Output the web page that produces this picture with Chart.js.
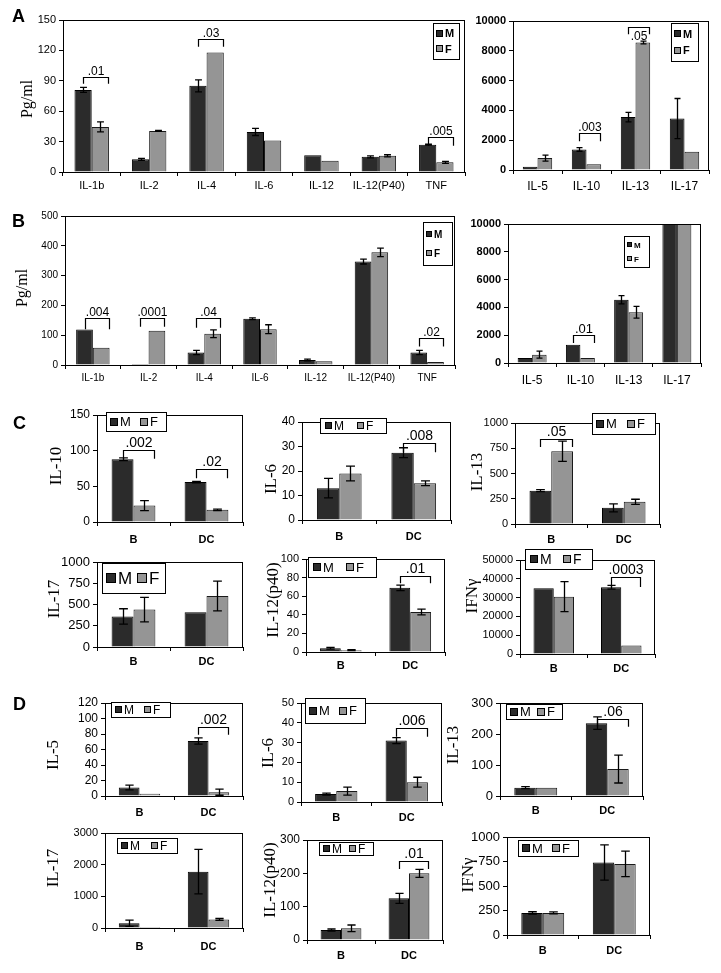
<!DOCTYPE html>
<html>
<head>
<meta charset="utf-8">
<script src="https://cdn.jsdelivr.net/npm/chart.js@4.4.1/dist/chart.umd.min.js"></script>
<style>
  body { margin:0; background:#fff; width:721px; height:973px; position:relative; overflow:hidden; }
  canvas { position:absolute; }
  .letter { position:absolute; font:bold 18px "Liberation Sans", Arial, sans-serif; line-height:18px; }
  .ytitle { position:absolute; font:17px "Liberation Serif", "Times New Roman", serif; line-height:1;
            white-space:nowrap; transform:translate(-50%,-50%) rotate(-90deg); }
</style>
</head>
<body>
<script>
// ---- A: serum cytokines (left: low range, right: high range)
const aCats1 = ['IL-1b', 'IL-2', 'IL-4', 'IL-6', 'IL-12', 'IL-12(P40)', 'TNF'];
const aMale1 = [81, 12.5, 85, 39.5, 16.5, 15, 27];
const aMaleErr1 = [2.5, 1, 6, 3.5, 0, 1, 0.5];
const aFemale1 = [44.5, 40.5, 118, 31, 11, 16, 9.5];
const aFemaleErr1 = [5, 0.5, 0, 0, 0, 1, 1];
const aSigCats1 = [0, 2, 6];
const aSigText1 = ['.01', '.03', '.005'];
const aSigTop1 = [93.5, 131, 35];
const aSigEnd1 = [87, 123.5, 26];
const aTicks1 = [0, 30, 60, 90, 120, 150];

const aCats2 = ['IL-5', 'IL-10', 'IL-13', 'IL-17'];
const aMale2 = [220, 1380, 3550, 3450];
const aMaleErr2 = [0, 120, 320, 1350];
const aFemale2 = [800, 380, 8560, 1220];
const aFemaleErr2 = [200, 0, 90, 0];
const aSigCats2 = [1, 2];
const aSigText2 = ['.003', '.05'];
const aSigTop2 = [2450, 9620];
const aSigEnd2 = [1930, 9110];
const aTicks2 = [0, 2000, 4000, 6000, 8000, 10000];

// ---- B
const bCats1 = ['IL-1b', 'IL-2', 'IL-4', 'IL-6', 'IL-12', 'IL-12(P40)', 'TNF'];
const bMale1 = [119, 3, 42, 155, 17, 347, 42];
const bMaleErr1 = [0, 0, 7, 3, 3, 8, 7];
const bFemale1 = [58, 115, 105, 120, 13, 378, 10];
const bFemaleErr1 = [0, 0, 13, 15, 0, 14, 0];
const bSigCats1 = [0, 1, 2, 6];
const bSigText1 = ['.004', '.0001', '.04', '.02'];
const bSigTop1 = [157, 157, 157, 90];
const bSigEnd1 = [120, 128, 125, 62];
const bTicks1 = [0, 100, 200, 300, 400, 500];

const bCats2 = ['IL-5', 'IL-10', 'IL-13', 'IL-17'];
const bMale2 = [360, 1320, 4550, 10000];
const bMaleErr2 = [0, 0, 300, 0];
const bFemale2 = [600, 360, 3650, 10000];
const bFemaleErr2 = [250, 0, 420, 0];
const bSigCats2 = [1];
const bSigText2 = ['.01'];
const bSigTop2 = [1990];
const bSigEnd2 = [1430];
const bTicks2 = [0, 2000, 4000, 6000, 8000, 10000];

// ---- C / D: B cells vs DC
const cellCats = ['B', 'DC'];

const c1Male = [88, 56], c1MaleErr = [2, 1], c1Female = [23, 17], c1FemaleErr = [7, 1];
const c1SigCats = [0, 1], c1SigText = ['.002', '.02'], c1SigTop = [101, 74.5], c1SigEnd = [88.5, 61.5];
const c1Ticks = [0, 50, 100, 150];

const c2Male = [13, 27.5], c2MaleErr = [4, 2], c2Female = [19, 15], c2FemaleErr = [3, 1];
const c2SigCats = [1], c2SigText = ['.008'], c2SigTop = [31.4], c2SigEnd = [27.7];
const c2Ticks = [0, 10, 20, 30, 40];

const c3Male = [330, 160], c3MaleErr = [10, 40], c3Female = [720, 220], c3FemaleErr = [100, 25];
const c3SigCats = [0], c3SigText = ['.05'], c3SigTop = [842], c3SigEnd = [762];
const c3Ticks = [0, 250, 500, 750, 1000];

const c4Male = [360, 410], c4MaleErr = [90, 0], c4Female = [440, 600], c4FemaleErr = [145, 175];
const c4Ticks = [0, 250, 500, 750, 1000];

const c5Male = [4, 69], c5MaleErr = [1, 3], c5Female = [2, 43], c5FemaleErr = [0.5, 3];
const c5SigCats = [1], c5SigText = ['.01'], c5SigTop = [82], c5SigEnd = [74];
const c5Ticks = [0, 20, 40, 60, 80, 100];

const c6Male = [35000, 35500], c6MaleErr = [0, 1000], c6Female = [30500, 4500], c6FemaleErr = [8000, 0];
const c6SigCats = [1], c6SigText = ['.0003'], c6SigTop = [41000], c6SigEnd = [35600];
const c6Ticks = [0, 10000, 20000, 30000, 40000, 50000];

const d1Male = [11, 71], d1MaleErr = [3, 4], d1Female = [3, 5], d1FemaleErr = [0, 4];
const d1SigCats = [1], d1SigText = ['.002'], d1SigTop = [89], d1SigEnd = [79];
const d1Ticks = [0, 20, 40, 60, 80, 100, 120];

const d2Male = [4, 31], d2MaleErr = [0.5, 1.5], d2Female = [5.5, 10], d2FemaleErr = [2, 2.5];
const d2SigCats = [1], d2SigText = ['.006'], d2SigTop = [37.4], d2SigEnd = [33];
const d2Ticks = [0, 10, 20, 30, 40, 50];

const d3Male = [27, 235], d3MaleErr = [3, 20], d3Female = [27, 87], d3FemaleErr = [0, 45];
const d3SigCats = [1], d3SigText = ['.06'], d3SigTop = [248], d3SigEnd = [223];
const d3Ticks = [0, 100, 200, 300];

const d4Male = [150, 1780], d4MaleErr = [100, 700], d4Female = [30, 270], d4FemaleErr = [0, 30];
const d4Ticks = [0, 1000, 2000, 3000];

const d5Male = [30, 125], d5MaleErr = [3, 15], d5Female = [35, 200], d5FemaleErr = [10, 12];
const d5SigCats = [1], d5SigText = ['.01'], d5SigTop = [237], d5SigEnd = [213];
const d5Ticks = [0, 100, 200, 300];

const d6Male = [225, 740], d6MaleErr = [12, 180], d6Female = [225, 725], d6FemaleErr = [10, 130];
const d6Ticks = [0, 250, 500, 750, 1000];

const panelLetters = [['A', 12, 7], ['B', 12, 212], ['C', 13, 414], ['D', 13, 695]];
const yTitles = [
  ['Pg/ml', 27, 99, 16], ['Pg/ml', 22, 288, 16],
  ['IL-10', 55, 466, 17], ['IL-6', 270, 479, 17], ['IL-13', 476, 472, 17],
  ['IL-17', 53, 599, 17], ['IL-12(p40)', 272, 600, 17], ['IFNγ', 471, 596, 17],
  ['IL-5', 52, 755, 17], ['IL-6', 267, 753, 17], ['IL-13', 452, 745, 17],
  ['IL-17', 52, 868, 17], ['IL-12(p40)', 269, 880, 17], ['IFNγ', 467, 875, 17]
];

const M_COLOR = '#2b2b2b', F_COLOR = '#959595';
const FAMILY = '"Liberation Sans", Arial, sans-serif';
Chart.defaults.font.family = FAMILY;
Chart.defaults.color = '#000';

// page layout for every small chart: area = plot box [left, top, right, bottom] in page px
const charts = [
  { area: [63, 20, 465, 172], cats: aCats1, m: aMale1, me: aMaleErr1, f: aFemale1, fe: aFemaleErr1,
    sig: [aSigCats1, aSigText1, aSigTop1, aSigEnd1], ticks: aTicks1, tickFont: 11, catFont: 11, catBold: false,
    catOff: 13, legend: { box: [433, 23, 459, 59], dir: 'v', size: 11, bold: true }, sigFont: 12 },
  { area: [513, 21, 709, 170], cats: aCats2, m: aMale2, me: aMaleErr2, f: aFemale2, fe: aFemaleErr2,
    sig: [aSigCats2, aSigText2, aSigTop2, aSigEnd2], sigBelow: [false, true], ticks: aTicks2, tickFont: 11, tickBold: true,
    catFont: 12, catBold: false, catOff: 16, legend: { box: [671, 23, 698, 61], dir: 'v', size: 11, bold: true }, sigFont: 12 },
  { area: [65, 216, 455, 365], cats: bCats1, m: bMale1, me: bMaleErr1, f: bFemale1, fe: bFemaleErr1,
    sig: [bSigCats1, bSigText1, bSigTop1, bSigEnd1], ticks: bTicks1, tickFont: 10, catFont: 10, catBold: false,
    catOff: 13, legend: { box: [423, 222, 452, 265], dir: 'v', size: 10, bold: true }, sigFont: 12 },
  { area: [508, 224, 701, 363], cats: bCats2, m: bMale2, me: bMaleErr2, f: bFemale2, fe: bFemaleErr2,
    sig: [bSigCats2, bSigText2, bSigTop2, bSigEnd2], ticks: bTicks2, tickFont: 11, tickBold: true, catFont: 12, catBold: false,
    catOff: 17, legend: { box: [624, 236, 649, 267], dir: 'v', size: 8, bold: true }, sigFont: 13 },

  { area: [97, 415, 243, 522], cats: cellCats, m: c1Male, me: c1MaleErr, f: c1Female, fe: c1FemaleErr,
    sig: [c1SigCats, c1SigText, c1SigTop, c1SigEnd], ticks: c1Ticks, tickFont: 12, catFont: 11, catBold: true,
    catOff: 17, legend: { box: [106, 412, 166, 431], dir: 'h', size: 13 }, sigFont: 14 },
  { area: [302, 422, 451, 520], cats: cellCats, m: c2Male, me: c2MaleErr, f: c2Female, fe: c2FemaleErr,
    sig: [c2SigCats, c2SigText, c2SigTop, c2SigEnd], ticks: c2Ticks, tickFont: 12, catFont: 11, catBold: true,
    catOff: 16, legend: { box: [320, 418, 386, 433], dir: 'h', size: 12 }, sigFont: 14 },
  { area: [515, 423, 660, 524], cats: cellCats, m: c3Male, me: c3MaleErr, f: c3Female, fe: c3FemaleErr,
    sig: [c3SigCats, c3SigText, c3SigTop, c3SigEnd], ticks: c3Ticks, tickFont: 11, catFont: 11, catBold: true,
    catOff: 15, legend: { box: [592, 413, 655, 434], dir: 'h', size: 13 }, sigFont: 14 },
  { area: [97, 562, 243, 647], cats: cellCats, m: c4Male, me: c4MaleErr, f: c4Female, fe: c4FemaleErr,
    ticks: c4Ticks, tickFont: 13, catFont: 11, catBold: true,
    catOff: 14, legend: { box: [102, 563, 165, 593], dir: 'h', size: 17 }, sigFont: 14 },
  { area: [306, 559, 445, 652], cats: cellCats, m: c5Male, me: c5MaleErr, f: c5Female, fe: c5FemaleErr,
    sig: [c5SigCats, c5SigText, c5SigTop, c5SigEnd], ticks: c5Ticks, tickFont: 11, catFont: 11, catBold: true,
    catOff: 13, legend: { box: [308, 557, 376, 577], dir: 'h', size: 13 }, sigFont: 14 },
  { area: [520, 560, 655, 654], cats: cellCats, m: c6Male, me: c6MaleErr, f: c6Female, fe: c6FemaleErr,
    sig: [c6SigCats, c6SigText, c6SigTop, c6SigEnd], ticks: c6Ticks, tickFont: 11, catFont: 11, catBold: true,
    catOff: 14, legend: { box: [525, 549, 592, 569], dir: 'h', size: 14 }, sigFont: 14 },

  { area: [105, 703, 243, 796], cats: cellCats, m: d1Male, me: d1MaleErr, f: d1Female, fe: d1FemaleErr,
    sig: [d1SigCats, d1SigText, d1SigTop, d1SigEnd], ticks: d1Ticks, tickFont: 12, catFont: 11, catBold: true,
    catOff: 16, legend: { box: [111, 702, 170, 717], dir: 'h', size: 12 }, sigFont: 14 },
  { area: [301, 703, 442, 802], cats: cellCats, m: d2Male, me: d2MaleErr, f: d2Female, fe: d2FemaleErr,
    sig: [d2SigCats, d2SigText, d2SigTop, d2SigEnd], ticks: d2Ticks, tickFont: 11, catFont: 11, catBold: true,
    catOff: 15, legend: { box: [305, 698, 365, 723], dir: 'h', size: 13 }, sigFont: 14 },
  { area: [500, 703, 643, 796], cats: cellCats, m: d3Male, me: d3MaleErr, f: d3Female, fe: d3FemaleErr,
    sig: [d3SigCats, d3SigText, d3SigTop, d3SigEnd], ticks: d3Ticks, tickFont: 13, catFont: 11, catBold: true,
    catOff: 14, legend: { box: [506, 704, 562, 719], dir: 'h', size: 13 }, sigFont: 14 },
  { area: [105, 833, 243, 928], cats: cellCats, m: d4Male, me: d4MaleErr, f: d4Female, fe: d4FemaleErr,
    ticks: d4Ticks, tickFont: 11, catFont: 11, catBold: true,
    catOff: 18, legend: { box: [117, 838, 177, 853], dir: 'h', size: 12 }, sigFont: 14 },
  { area: [307, 840, 443, 940], cats: cellCats, m: d5Male, me: d5MaleErr, f: d5Female, fe: d5FemaleErr,
    sig: [d5SigCats, d5SigText, d5SigTop, d5SigEnd], ticks: d5Ticks, tickFont: 12, catFont: 11, catBold: true,
    catOff: 15, legend: { box: [319, 842, 373, 855], dir: 'h', size: 12 }, sigFont: 14 },
  { area: [507, 837, 650, 935], cats: cellCats, m: d6Male, me: d6MaleErr, f: d6Female, fe: d6FemaleErr,
    ticks: d6Ticks, tickFont: 13, catFont: 11, catBold: true,
    catOff: 15, legend: { box: [518, 840, 578, 856], dir: 'h', size: 13 }, sigFont: 14 }
];

// error bars, significance brackets, box outline and legend
function decorPlugin(c, ox, oy) {
  return {
    id: 'decor',
    afterDatasetsDraw(chart) {
      const ctx = chart.ctx, a = chart.chartArea, y = chart.scales.y;
      ctx.save();
      ctx.strokeStyle = '#000';
      ctx.lineWidth = 1;
      ctx.strokeRect(Math.round(a.left) + 0.5, Math.round(a.top) + 0.5,
        Math.round(a.right - a.left) - 1, Math.round(a.bottom - a.top));

      [c.me, c.fe].forEach((errs, i) => {
        const meta = chart.getDatasetMeta(i);
        const vals = chart.data.datasets[i].data;
        errs.forEach((e, j) => {
          if (!e) return;
          const bar = meta.data[j];
          const x = Math.round(bar.x) + 0.5;
          const y1 = y.getPixelForValue(vals[j] + e);
          const y2 = y.getPixelForValue(Math.max(vals[j] - e, 0));
          const cap = Math.max(3, bar.width * 0.2);
          ctx.lineWidth = 1.3;
          ctx.beginPath();
          ctx.moveTo(x, y1); ctx.lineTo(x, y2);
          ctx.moveTo(x - cap, y1); ctx.lineTo(x + cap, y1);
          ctx.moveTo(x - cap, y2); ctx.lineTo(x + cap, y2);
          ctx.stroke();
        });
      });

      if (c.sig) {
        const [cats, text, top, end] = c.sig;
        ctx.lineWidth = 1.2;
        ctx.fillStyle = '#000';
        ctx.textAlign = 'center';
        ctx.font = c.sigFont + 'px ' + FAMILY;
        cats.forEach((j, k) => {
          const bm = chart.getDatasetMeta(0).data[j];
          const bf = chart.getDatasetMeta(1).data[j];
          const xa = Math.round(bm.x) + 0.5;
          const xb = Math.round(bf.x + bf.width * 0.45) + 0.5;
          const yt = Math.round(y.getPixelForValue(top[k])) + 0.5;
          const ye = y.getPixelForValue(end[k]);
          ctx.beginPath();
          ctx.moveTo(xa, ye); ctx.lineTo(xa, yt); ctx.lineTo(xb, yt); ctx.lineTo(xb, ye);
          ctx.stroke();
          const below = c.sigBelow && c.sigBelow[k];
          ctx.textBaseline = below ? 'top' : 'bottom';
          ctx.fillText(text[k], (xa + xb) / 2, below ? yt + 3 : yt);
        });
      }
      ctx.restore();
    },
    afterDraw(chart) {
      const ctx = chart.ctx, lg = c.legend;
      const x1 = lg.box[0] - ox, y1 = lg.box[1] - oy, x2 = lg.box[2] - ox, y2 = lg.box[3] - oy;
      const w = x2 - x1, h = y2 - y1;
      const fs = lg.size, sw = Math.round(fs * 0.6);
      ctx.save();
      ctx.fillStyle = '#fff';
      ctx.fillRect(x1, y1, w, h);
      ctx.strokeStyle = '#000';
      ctx.lineWidth = 1;
      ctx.strokeRect(x1 + 0.5, y1 + 0.5, w, h);
      ctx.font = (lg.bold ? 'bold ' : '') + fs + 'px ' + FAMILY;
      ctx.textBaseline = 'middle';
      ctx.textAlign = 'left';
      const items = [['M', M_COLOR], ['F', F_COLOR]];
      items.forEach(([t, col], k) => {
        let sx, sy;
        if (lg.dir === 'v') {
          sx = x1 + 3;
          sy = y1 + h * (k === 0 ? 0.28 : 0.72);
        } else {
          sx = x1 + w * (k === 0 ? 0.07 : 0.56);
          sy = y1 + h / 2;
        }
        ctx.fillStyle = col;
        ctx.fillRect(Math.round(sx), Math.round(sy - sw / 2), sw, sw);
        ctx.strokeRect(Math.round(sx) + 0.5, Math.round(sy - sw / 2) + 0.5, sw - 1, sw - 1);
        ctx.fillStyle = '#000';
        ctx.fillText(t, Math.round(sx) + sw + 2, sy + 1);
      });
      ctx.restore();
    }
  };
}

function makeChart(c) {
  const PL = 60, PT = 16, PR = 8, PB = 32;
  const [L, T, R, B] = c.area;
  const cv = document.createElement('canvas');
  cv.width = R - L + PL + PR;
  cv.height = B - T + PT + PB;
  const ox = L - PL, oy = T - PT;
  cv.style.left = ox + 'px';
  cv.style.top = oy + 'px';
  document.body.appendChild(cv);

  const tk = c.ticks;
  new Chart(cv, {
    type: 'bar',
    data: {
      labels: c.cats,
      datasets: [
        { label: 'M', data: c.m, backgroundColor: M_COLOR, borderColor: '#000', borderWidth: 1 },
        { label: 'F', data: c.f, backgroundColor: F_COLOR, borderColor: '#1a1a1a', borderWidth: 1 }
      ]
    },
    options: {
      responsive: false,
      animation: false,
      devicePixelRatio: 1,
      layout: { padding: { top: PT, right: PR, left: 0, bottom: 0 } },
      datasets: { bar: { categoryPercentage: 0.6, barPercentage: 1 } },
      plugins: { legend: { display: false }, tooltip: { enabled: false } },
      scales: {
        x: {
          grid: { display: true, drawOnChartArea: false, drawTicks: true, tickLength: 4, color: '#000', offset: true },
          border: { display: true, color: '#000', width: 1 },
          ticks: {
            color: '#000', maxRotation: 0, autoSkip: false,
            font: { size: c.catFont, weight: c.catBold ? 'bold' : 'normal' },
            padding: Math.max(0, c.catOff - 4 - Math.round(c.catFont * 0.55))
          },
          afterFit: s => { s.height = PB; }
        },
        y: {
          min: tk[0], max: tk[tk.length - 1],
          grid: { display: true, drawOnChartArea: false, drawTicks: true, tickLength: 4, color: '#000' },
          border: { display: true, color: '#000', width: 1 },
          ticks: {
            color: '#000', stepSize: tk[1] - tk[0], padding: 3, autoSkip: false, maxTicksLimit: 20,
            font: { size: c.tickFont, weight: c.tickBold ? 'bold' : 'normal', lineHeight: 1 },
            callback: v => String(v)
          },
          afterFit: s => { s.width = PL; }
        }
      }
    },
    plugins: [decorPlugin(c, ox, oy)]
  });
}

charts.forEach(makeChart);

panelLetters.forEach(([t, x, y]) => {
  const d = document.createElement('div');
  d.className = 'letter';
  d.textContent = t;
  d.style.left = x + 'px';
  d.style.top = y + 'px';
  document.body.appendChild(d);
});

yTitles.forEach(([t, x, y, size]) => {
  const d = document.createElement('div');
  d.className = 'ytitle';
  d.textContent = t;
  d.style.left = x + 'px';
  d.style.top = y + 'px';
  d.style.fontSize = size + 'px';
  document.body.appendChild(d);
});
</script>
</body>
</html>
